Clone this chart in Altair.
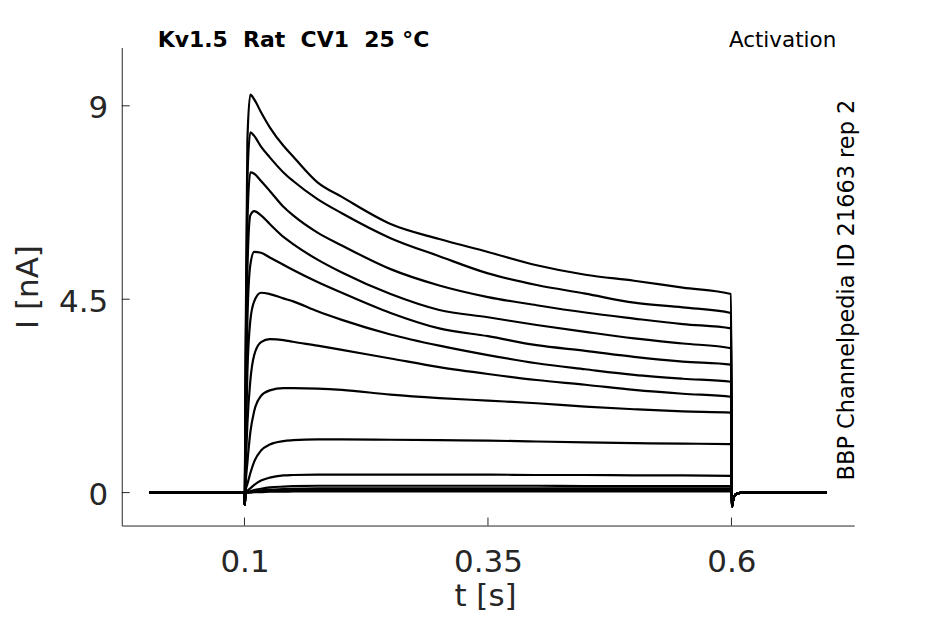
import altair as alt
import pandas as pd

# time grid [s]
T = [0.002, 0.0995, 0.1003, 0.1012, 0.103, 0.106, 0.11, 0.117, 0.126, 0.14, 0.15,
     0.175, 0.2, 0.25, 0.3, 0.35, 0.4, 0.45, 0.5, 0.55, 0.5995,
     0.6006, 0.6015, 0.603, 0.606, 0.612, 0.698]

# holding level + onset transient, and tail transient (same for all sweeps)
PRE = [0.0, 0.0, -0.28]
TAIL = [-0.32, -0.20, -0.08, -0.02, 0.0, 0.0]

# step-phase current [nA] for each sweep (values at T[3:21])
S1 = [3.5, 8.2, 9.26, 9.15, 8.85, 8.50, 8.07, 7.82, 7.22, 6.88, 6.25, 5.90, 5.60, 5.29, 5.07, 4.93, 4.77, 4.62]
S2 = [3.0, 7.3, 8.38, 8.30, 8.05, 7.80, 7.45, 7.25, 6.83, 6.50, 5.92, 5.50, 5.10, 4.83, 4.63, 4.42, 4.31, 4.18]
S3 = [2.5, 6.3, 7.45, 7.42, 7.25, 7.02, 6.65, 6.45, 6.05, 5.75, 5.20, 4.82, 4.55, 4.36, 4.19, 4.05, 3.92, 3.82]
S4 = [2.0, 5.2, 6.45, 6.55, 6.45, 6.25, 5.95, 5.78, 5.42, 5.12, 4.62, 4.25, 4.08, 3.90, 3.74, 3.59, 3.47, 3.36]
S5 = [1.5, 4.0, 5.30, 5.60, 5.58, 5.47, 5.30, 5.18, 4.90, 4.65, 4.18, 3.82, 3.64, 3.43, 3.30, 3.16, 3.05, 2.98]
S6 = [1.0, 2.8, 4.00, 4.45, 4.65, 4.62, 4.52, 4.45, 4.22, 4.02, 3.68, 3.42, 3.20, 3.01, 2.87, 2.74, 2.65, 2.58]
S7 = [0.5, 1.6, 2.60, 3.20, 3.50, 3.57, 3.55, 3.51, 3.42, 3.32, 3.12, 2.92, 2.76, 2.62, 2.51, 2.39, 2.30, 2.23]
S8 = [0.2, 0.7, 1.40, 1.90, 2.25, 2.38, 2.43, 2.43, 2.42, 2.39, 2.28, 2.20, 2.14, 2.08, 2.00, 1.94, 1.89, 1.86]
S9 = [0.05, 0.2, 0.45, 0.72, 0.98, 1.12, 1.20, 1.22, 1.24, 1.24, 1.23, 1.22, 1.21, 1.19, 1.17, 1.15, 1.14, 1.13]
S10 = [0.0, 0.04, 0.10, 0.18, 0.28, 0.35, 0.40, 0.41, 0.42, 0.42, 0.42, 0.42, 0.42, 0.41, 0.41, 0.40, 0.40, 0.39]
S11 = [0.0, 0.01, 0.03, 0.06, 0.09, 0.12, 0.14, 0.15, 0.16, 0.16, 0.16, 0.16, 0.16, 0.16, 0.15, 0.15, 0.15, 0.15]
S12 = [0.0, 0.01, 0.02, 0.03, 0.05, 0.07, 0.08, 0.09, 0.10, 0.10, 0.10, 0.10, 0.10, 0.10, 0.10, 0.10, 0.10, 0.10]
S13 = [0.0, 0.0, 0.01, 0.02, 0.03, 0.04, 0.05, 0.06, 0.06, 0.06, 0.06, 0.06, 0.06, 0.06, 0.06, 0.06, 0.06, 0.06]
S14 = [0.0, 0.0, 0.0, 0.01, 0.01, 0.02, 0.02, 0.03, 0.03, 0.03, 0.03, 0.03, 0.03, 0.03, 0.03, 0.03, 0.03, 0.03]

SWEEPS = [S1, S2, S3, S4, S5, S6, S7, S8, S9, S10, S11, S12, S13, S14]

X_TICKS = [0.1, 0.35, 0.6]
Y_TICKS = [0, 4.5, 9]

NB = "\u00a0"
TITLE = "Kv1.5" + NB * 2 + "Rat" + NB * 2 + "CV1" + NB * 2 + "25" + NB + "°C"
RIGHT_TITLE = "Activation"
SIDE_TEXT = "BBP Channelpedia ID 21663 rep 2"

rows = []
for k, s in enumerate(SWEEPS):
    vals = PRE + s + TAIL
    for t, v in zip(T, vals):
        rows.append({"t": t, "I": v, "sweep": k})
df = pd.DataFrame(rows)

W, H = 734, 479
FONT = "DejaVu Sans"
AX = "#262626"

xscale = alt.Scale(domain=[-0.026, 0.726], nice=False, zero=False)
yscale = alt.Scale(domain=[-0.766, 10.355], nice=False, zero=False)

lines = alt.Chart(df).mark_line(color="black", strokeWidth=2.2, interpolate="monotone").encode(
    x=alt.X("t:Q", scale=xscale,
            axis=alt.Axis(values=X_TICKS, labelExpr="'' + datum.value", ticks=False, tickSize=0,
                          labelPadding=22,
                          title="t [s]", titleX=364, titleY=80, titleAlign="center",
                          titleBaseline="alphabetic", titleAngle=0)),
    y=alt.Y("I:Q", scale=yscale,
            axis=alt.Axis(values=Y_TICKS, labelExpr="'' + datum.value", ticks=False, tickSize=0,
                          labelPadding=14, labelOffset=3,
                          title="I [nA]", titleX=-84.5, titleY=239.5, titleAlign="center",
                          titleBaseline="alphabetic", titleAngle=270)),
    detail="sweep:N",
)

xt = alt.Chart(pd.DataFrame({"v": X_TICKS})).mark_rule(color=AX, strokeWidth=1).encode(
    x=alt.X("v:Q", scale=xscale), y=alt.value(H), y2=alt.value(H - 8))
yt = alt.Chart(pd.DataFrame({"v": Y_TICKS})).mark_rule(color=AX, strokeWidth=1).encode(
    y=alt.Y("v:Q", scale=yscale), x=alt.value(0), x2=alt.value(8))

title = alt.Chart(pd.DataFrame({"s": [TITLE]})).mark_text(
    font=FONT, fontSize=22, fontWeight="bold", color="black", align="left", baseline="alphabetic"
).encode(text="s:N", x=alt.value(36), y=alt.value(-0.5))

rtitle = alt.Chart(pd.DataFrame({"s": [RIGHT_TITLE]})).mark_text(
    font=FONT, fontSize=21.5, color="black", align="right", baseline="alphabetic"
).encode(text="s:N", x=alt.value(716), y=alt.value(-1))

side = alt.Chart(pd.DataFrame({"s": [SIDE_TEXT]})).mark_text(
    font=FONT, fontSize=22.5, color="black", align="center", baseline="alphabetic", angle=270
).encode(text="s:N", x=alt.value(734), y=alt.value(243))

chart = alt.layer(lines, xt, yt, title, rtitle, side).properties(
    width=W, height=H,
    autosize=alt.AutoSizeParams(type="none"),
    padding={"left": 114, "top": 39, "right": 83, "bottom": 90},
).configure_view(stroke=None).configure_axis(
    grid=False, domainColor=AX, domainWidth=1, labelColor=AX, titleColor=AX,
    labelFont=FONT, titleFont=FONT, labelFontSize=31, titleFontSize=31,
    titleFontWeight="normal",
)

chart.save("out.html", embed_options={"renderer": "svg", "actions": False})
